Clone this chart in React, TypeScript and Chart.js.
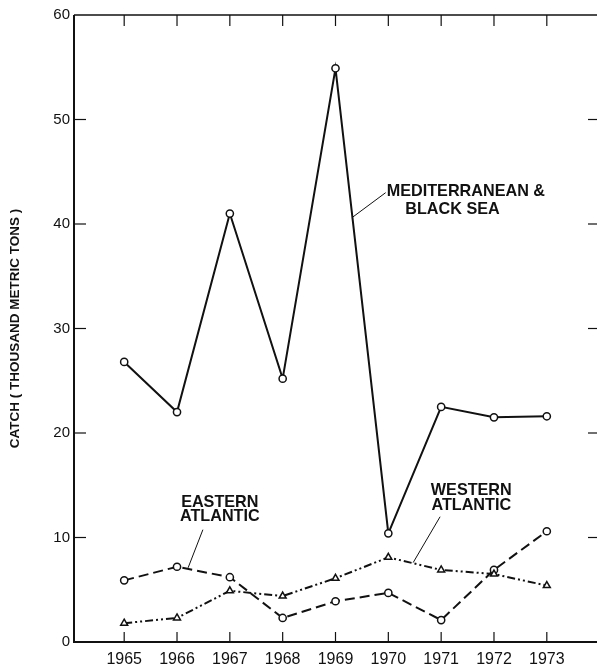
import React, { useEffect, useRef } from "react";
import { Chart, registerables } from "chart.js";

Chart.register(...registerables);

// ---- data ----
const years = [1965, 1966, 1967, 1968, 1969, 1970, 1971, 1972, 1973];
const medBlackSea = [26.8, 22.0, 41.0, 25.2, 54.9, 10.4, 22.5, 21.5, 21.6];
const easternAtlantic = [5.9, 7.2, 6.2, 2.3, 3.9, 4.7, 2.1, 6.9, 10.6];
const westernAtlantic = [1.8, 2.3, 4.9, 4.4, 6.1, 8.1, 6.9, 6.5, 5.4];
const yTicks = [0, 10, 20, 30, 40, 50, 60];
const yTitle = "CATCH ( THOUSAND METRIC TONS )";

// annotation labels (data coordinates) with leader lines
const medLabel = ["MEDITERRANEAN &", "BLACK SEA"];
const eastLabel = ["EASTERN", "ATLANTIC"];
const westLabel = ["WESTERN", "ATLANTIC"];

type Note = {
  lines: string[];
  align: "left" | "center";
  xs: number[]; // x per line (data)
  ys: number[]; // y per line (data)
  leader: [number, number, number, number];
};

const notes: Note[] = [
  { lines: medLabel, align: "left", xs: [1969.97, 1970.32], ys: [43.1, 41.4], leader: [1969.31, 40.6, 1969.95, 43.0] },
  { lines: eastLabel, align: "center", xs: [1966.81, 1966.81], ys: [13.35, 12.0], leader: [1966.49, 10.75, 1966.21, 7.1] },
  { lines: westLabel, align: "center", xs: [1971.57, 1971.57], ys: [14.48, 13.04], leader: [1970.98, 11.99, 1970.47, 7.6] },
];

const FONT = "'Liberation Sans', Arial, sans-serif";
const INK = "#111";

const framePlugin = {
  id: "frame",
  afterDraw(chart: any) {
    const { ctx, chartArea, scales } = chart;
    const { left, right, top, bottom } = chartArea;
    const x = scales.x;
    const y = scales.y;
    const line = (x1: number, y1: number, x2: number, y2: number) => {
      ctx.beginPath();
      ctx.moveTo(x1, y1);
      ctx.lineTo(x2, y2);
      ctx.stroke();
    };
    ctx.save();
    ctx.strokeStyle = INK;
    ctx.setLineDash([]);
    ctx.lineWidth = 2;
    line(left, top, left, bottom + 1);
    line(left, bottom, right, bottom);
    ctx.lineWidth = 1.5;
    line(left, top, right, top);
    ctx.lineWidth = 1.2;
    years.forEach((v) => {
      const px = x.getPixelForValue(v);
      line(px, bottom, px, bottom - 10);
      line(px, top, px, top + 11);
    });
    yTicks.forEach((v) => {
      if (v <= 0 || v >= 60) return;
      const py = y.getPixelForValue(v);
      line(left, py, left + 12, py);
      line(right - 9, py, right, py);
    });
    // annotations
    ctx.fillStyle = INK;
    ctx.font = `bold 16.2px ${FONT}`;
    ctx.textBaseline = "middle";
    ctx.lineWidth = 1;
    notes.forEach((n) => {
      ctx.textAlign = n.align;
      n.lines.forEach((t, i) => {
        ctx.fillText(t, x.getPixelForValue(n.xs[i]), y.getPixelForValue(n.ys[i]));
      });
      const [a, b, c, d] = n.leader;
      line(x.getPixelForValue(a), y.getPixelForValue(b), x.getPixelForValue(c), y.getPixelForValue(d));
    });
    ctx.restore();
  },
};

export default function App() {
  const ref = useRef<HTMLCanvasElement | null>(null);

  useEffect(() => {
    if (!ref.current) return;
    const mk = (vals: number[]) => years.map((yr, i) => ({ x: yr, y: vals[i] }));
    const chart = new Chart(ref.current, {
      type: "line",
      data: {
        datasets: [
          {
            label: "Mediterranean & Black Sea",
            data: mk(medBlackSea),
            borderColor: INK,
            borderWidth: 2,
            pointStyle: "circle",
            pointRadius: 3.6,
            pointBorderWidth: 1.5,
            pointBackgroundColor: "#fff",
            pointBorderColor: INK,
            tension: 0,
          },
          {
            label: "Western Atlantic",
            data: mk(westernAtlantic),
            borderColor: INK,
            borderWidth: 2,
            borderDash: [8, 3, 2, 3, 2, 3],
            pointStyle: "triangle",
            pointRadius: 4,
            pointBorderWidth: 1.5,
            pointBackgroundColor: "#fff",
            pointBorderColor: INK,
            tension: 0,
          },
          {
            label: "Eastern Atlantic",
            data: mk(easternAtlantic),
            borderColor: INK,
            borderWidth: 2,
            borderDash: [10, 5],
            pointStyle: "circle",
            pointRadius: 3.6,
            pointBorderWidth: 1.5,
            pointBackgroundColor: "#fff",
            pointBorderColor: INK,
            tension: 0,
          },
        ],
      },
      options: {
        animation: false,
        responsive: false,
        layout: { autoPadding: false, padding: { top: 15, left: 0, right: 0, bottom: 0 } },
        plugins: { legend: { display: false }, tooltip: { enabled: false } },
        scales: {
          x: {
            type: "linear",
            min: 1964.05,
            max: 1973.95,
            afterBuildTicks: (s: any) => {
              s.ticks = years.map((v) => ({ value: v }));
            },
            afterFit: (s: any) => {
              s.height = 25;
              s.paddingLeft = 0;
              s.paddingRight = 0;
            },
            grid: { display: false, drawTicks: false },
            border: { display: false },
            ticks: {
              autoSkip: false,
              maxRotation: 0,
              padding: 8,
              color: INK,
              font: { family: FONT, size: 16 },
              callback: (v: any) => String(v),
            },
          },
          y: {
            type: "linear",
            min: 0,
            max: 60,
            afterBuildTicks: (s: any) => {
              s.ticks = yTicks.map((v) => ({ value: v }));
            },
            afterFit: (s: any) => {
              s.width = 74;
              s.paddingTop = 0;
              s.paddingBottom = 0;
            },
            grid: { display: false, drawTicks: false },
            border: { display: false },
            ticks: {
              padding: 4,
              color: INK,
              font: { family: FONT, size: 15 },
              callback: (v: any) => String(v),
            },
            title: {
              display: true,
              text: yTitle,
              color: INK,
              font: { family: FONT, size: 13.5, weight: "bold" },
              padding: { top: 7, bottom: 0 },
            },
          },
        },
      },
      plugins: [framePlugin],
    });
    return () => chart.destroy();
  }, []);

  return (
    <div style={{ position: "fixed", left: 0, top: 0, width: 597, height: 667, background: "#fff" }}>
      <canvas ref={ref} width={597} height={667} style={{ width: 597, height: 667, display: "block" }} />
    </div>
  );
}
